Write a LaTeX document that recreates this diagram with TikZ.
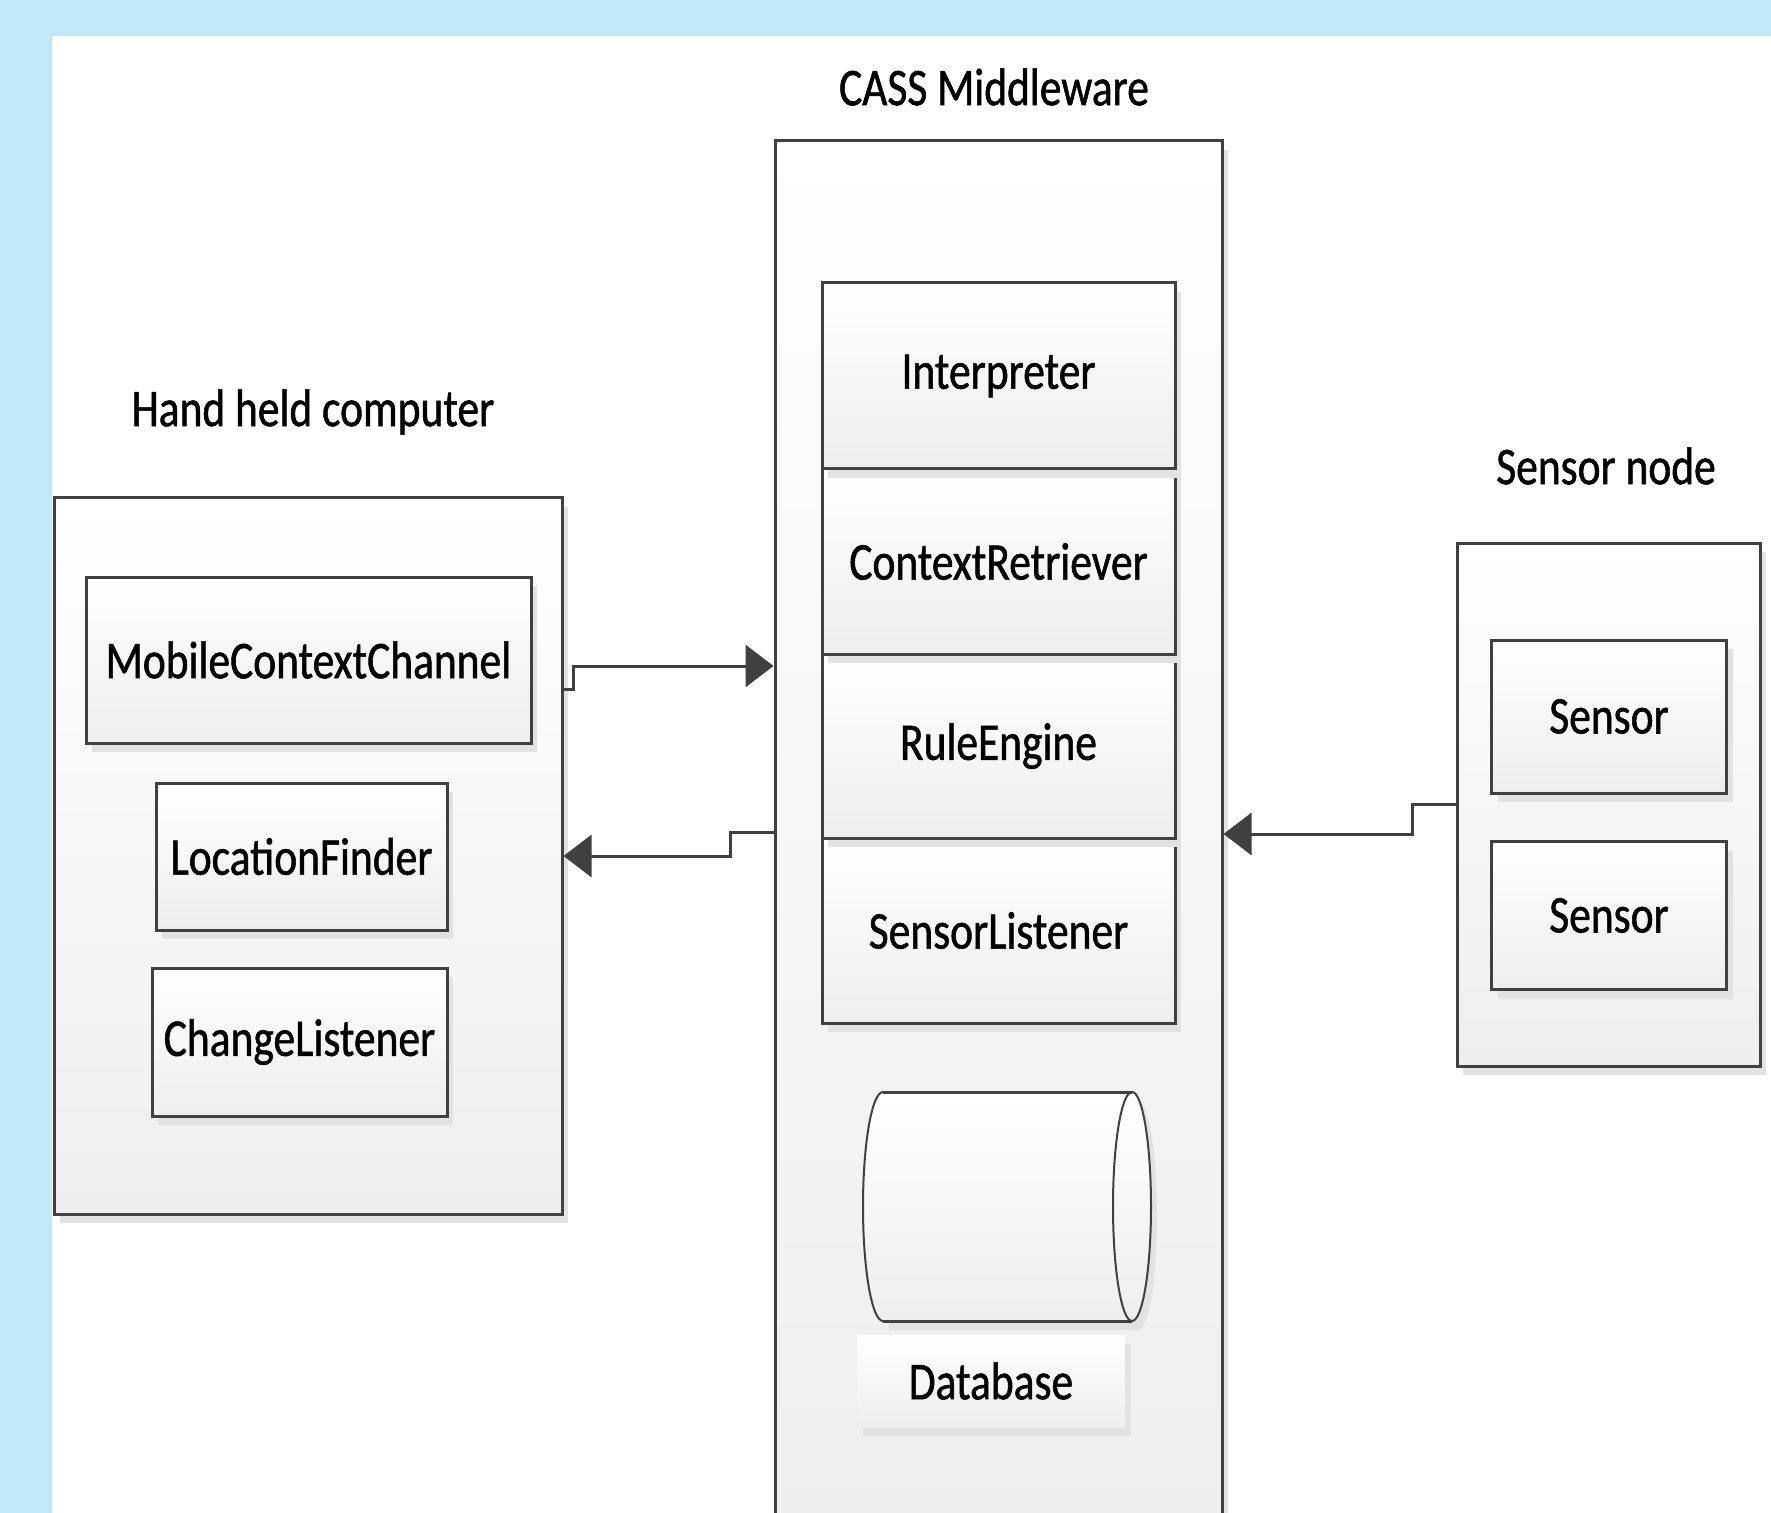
\documentclass[tikz,border=0pt]{standalone}
\usepackage{fontspec}
\newfontfamily\cf[FakeStretch=0.82,FakeBold=1]{Carlito}
\usetikzlibrary{arrows.meta,shadows}
\definecolor{bgblue}{RGB}{192,232,248}
\definecolor{ln}{RGB}{64,64,64}
\definecolor{shd}{RGB}{226,226,226}
\definecolor{botc}{RGB}{238,238,238}
\tikzset{
  lbl/.style={font=\cf\fontsize{26.5}{30}\selectfont, text=black, inner sep=0pt},
  box/.style={lbl, draw=ln, line width=1.5pt, top color=white, bottom color=botc,
    drop shadow={shadow xshift=3pt, shadow yshift=-4.5pt, fill=shd, opacity=1}},
  plainbox/.style={lbl, top color=white, bottom color=botc,
    drop shadow={shadow xshift=3pt, shadow yshift=-4.5pt, fill=shd, opacity=1}},
  arr/.style={draw=ln, line width=1.5pt, -{Triangle[length=14pt,width=21pt]}},
}
\begin{document}
\begin{tikzpicture}[x=0.5pt,y=-0.5pt]
\clip (0,0) rectangle (1771,1513);
\fill[bgblue] (0,0) rectangle (1771,1513);
\fill[white] (52,36) rectangle (1771,1513);

% titles
\node[lbl] (t1) at (994,87) {CASS Middleware};
\node[lbl] (t2) at (313,412) {Hand held computer};
\node[lbl] (t3) at (1606,466) {Sensor node};

% middle
\node[box, minimum width=223.5pt, minimum height=694.5pt] (mid) at (998.5,835.5) {};
\node[box, minimum width=176.5pt, minimum height=92.5pt] (slis) at (998.5,930.5) {SensorListener};
\node[box, minimum width=176.5pt, minimum height=92pt] (rule) at (998.5,746) {RuleEngine};
\node[box, minimum width=176.5pt, minimum height=92.5pt] (ctx) at (998.5,561.5) {ContextRetriever};
\node[box, minimum width=176.5pt, minimum height=93pt] (interp) at (998.5,376) {Interpreter};

% database cylinder
\fill[shd] (889,1101) -- (1138,1101) arc[start angle=90,end angle=-90,x radius=9.5pt,y radius=57.25pt]
  -- (889,1330) -- cycle;
\shade[top color=white, bottom color=botc] (883,1092) -- (1132,1092)
  arc[start angle=90,end angle=-90,x radius=9.5pt,y radius=57.25pt]
  -- (883,1321) arc[start angle=270,end angle=90,x radius=10pt,y radius=57.25pt] -- cycle;
\draw[ln, line width=1.5pt] (883,1092) -- (1132,1092) (883,1321) -- (1132,1321);
\draw[ln, line width=1pt] (883,1092) arc[start angle=90,end angle=270,x radius=10pt,y radius=57.25pt];
\draw[ln, line width=1pt] (1132,1092) arc[start angle=90,end angle=450,x radius=9.5pt,y radius=57.25pt];
\node[plainbox, minimum width=134pt, minimum height=46pt] (dbl) at (991,1381) {Database};

% left
\node[box, minimum width=254pt, minimum height=358pt] (lh) at (308,856) {};
\node[box, minimum width=222.5pt, minimum height=83pt] (mcc) at (308.5,660) {MobileContextChannel};
\node[box, minimum width=145.5pt, minimum height=73.5pt] (lf) at (301.5,856.5) {LocationFinder};
\node[box, minimum width=147.5pt, minimum height=74pt] (cl) at (299.5,1042) {ChangeListener};

% right
\node[box, minimum width=151.5pt, minimum height=261.5pt] (rb) at (1608.5,804.5) {};
\node[box, minimum width=117.5pt, minimum height=76.5pt] (s1) at (1609,716.5) {Sensor};
\node[box, minimum width=117.5pt, minimum height=74pt] (s2) at (1609,915.5) {Sensor};

% connectors
\draw[arr] (lh.east |- 0,689) -- (573,689) -- (573,666) -- (mid.west |- 0,666);
\draw[arr] (mid.west |- 0,832) -- (730,832) -- (730,856) -- (lh.east |- 0,856);
\draw[arr] (rb.west |- 0,804) -- (1412,804) -- (1412,834) -- (mid.east |- 0,834);
\end{tikzpicture}
\end{document}
